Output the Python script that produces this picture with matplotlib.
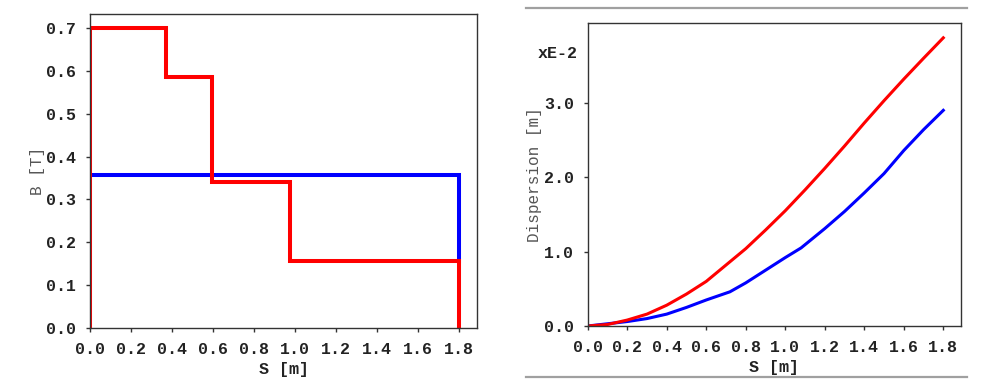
import numpy as np
import matplotlib.pyplot as plt
from matplotlib.lines import Line2D

# --- data: left panel, field B [T] along S [m]
s_dip_red = [0.0, 0.0, 0.37, 0.37, 0.595, 0.595, 0.975, 0.975, 1.8, 1.8]
b_dip_red = [0.0, 0.70, 0.70, 0.585, 0.585, 0.34, 0.34, 0.157, 0.157, 0.0]
s_dip_blue = [0.0, 1.8, 1.8]
b_dip_blue = [0.358, 0.358, 0.157]

# --- data: right panel, dispersion (x 1e-2 m)
s_red = [0.0, 0.1, 0.2, 0.3, 0.4, 0.5, 0.6, 0.7, 0.8, 0.9, 1.0, 1.1, 1.2, 1.3, 1.4, 1.5, 1.6, 1.7, 1.8]
d_red = [0.0, 0.02, 0.08, 0.16, 0.28, 0.43, 0.60, 0.82, 1.04, 1.29, 1.55, 1.83, 2.12, 2.42, 2.73, 3.03, 3.32, 3.60, 3.875]
s_blue = [0.0, 0.1, 0.2, 0.3, 0.4, 0.5, 0.6, 0.72, 0.8, 0.9, 1.0, 1.08, 1.2, 1.3, 1.4, 1.5, 1.6, 1.7, 1.8]
d_blue = [0.0, 0.03, 0.06, 0.10, 0.16, 0.25, 0.35, 0.46, 0.58, 0.75, 0.92, 1.05, 1.31, 1.54, 1.79, 2.05, 2.36, 2.64, 2.90]

xticks = np.arange(0, 1.81, 0.2)

plt.rcParams['font.family'] = ['Liberation Mono', 'DejaVu Sans Mono']

fig = plt.figure(figsize=(9.98, 3.83), dpi=100)
ax1 = fig.add_axes([0.0902, 0.1436, 0.3878, 0.8198])
ax2 = fig.add_axes([0.5889, 0.1488, 0.3741, 0.7903])

def style(ax):
    for sp in ax.spines.values():
        sp.set_color('#333333')
        sp.set_linewidth(1.0)
    ax.tick_params(direction='out', length=3, width=1, color='#333333',
                   labelsize=12, labelcolor='#222222', pad=7)
    for lab in ax.get_xticklabels() + ax.get_yticklabels():
        lab.set_fontweight('bold')

# left panel
ax1.plot(s_dip_blue, b_dip_blue, color='#0000ff', lw=2.9, solid_joinstyle='miter')
ax1.plot(s_dip_red, b_dip_red, color='#ff0000', lw=2.9, solid_joinstyle='miter')
ax1.set_xlim(0, 1.888)
ax1.set_ylim(0, 0.733)
ax1.set_xticks(xticks)
ax1.set_xticklabels(['%.1f' % v for v in xticks])
ax1.set_yticks(np.arange(0, 0.71, 0.1))
ax1.set_yticklabels(['%.1f' % v for v in np.arange(0, 0.71, 0.1)])
ax1.set_xlabel('S [m]', fontsize=12, fontweight='bold', color='#222222', labelpad=4)
ax1.set_ylabel('B [T]', fontsize=11.5, color='#555555', labelpad=1)
style(ax1)

# right panel
ax2.plot(s_blue, d_blue, color='#0000ff', lw=2.2)
ax2.plot(s_red, d_red, color='#ff0000', lw=2.2)
ax2.set_xlim(0, 1.89)
ax2.set_ylim(0, 4.07)
ax2.set_xticks(xticks)
ax2.set_xticklabels(['%.1f' % v for v in xticks])
ax2.set_yticks([0, 1, 2, 3])
ax2.set_yticklabels(['0.0', '1.0', '2.0', '3.0'])
ax2.set_xlabel('S [m]', fontsize=12, fontweight='bold', color='#222222', labelpad=4)
ax2.set_ylabel('Dispersion [m]', fontsize=11.5, color='#555555', labelpad=1)
style(ax2)
ax2.text(-0.05, 3.66, 'xE-2', transform=ax2.transData, ha='right', va='center',
         fontsize=12, fontweight='bold', color='#222222', clip_on=False)

# grey separator lines around right panel
fig.add_artist(Line2D([0.527, 0.969], [0.979, 0.979], color='#a0a0a0', lw=1.6))
fig.add_artist(Line2D([0.527, 0.969], [0.016, 0.016], color='#a0a0a0', lw=1.6))

fig.savefig('out.png', dpi=100)
